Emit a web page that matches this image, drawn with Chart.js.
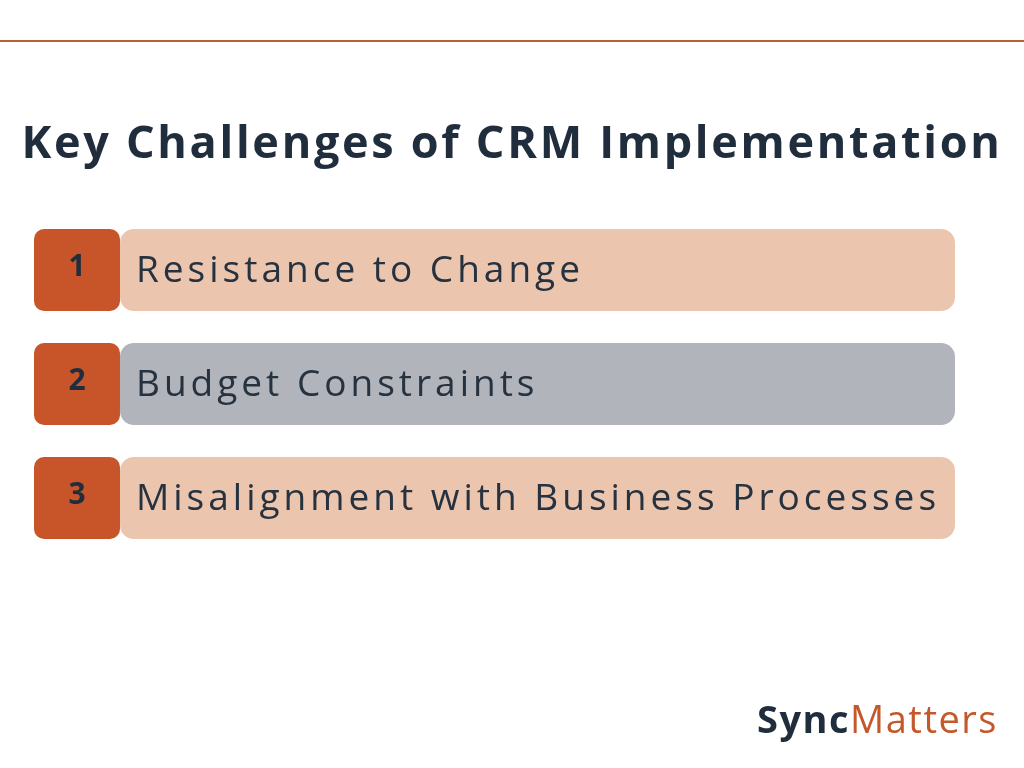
<!DOCTYPE html>
<html><head><meta charset="utf-8">
<script src="https://cdn.jsdelivr.net/npm/chart.js@4.4.0/dist/chart.umd.min.js"></script>
<style>html,body{margin:0;padding:0;background:#fff}</style>
</head><body>
<canvas id="c" width="1024" height="768"></canvas>
<script>
const categories = ["Resistance to Change", "Budget Constraints", "Misalignment with Business Processes"];
const numbers = ["1", "2", "3"];
const boxValues = [[0, 1], [0, 1], [0, 1]];
const barValues = [[1, 10.71], [1, 10.71], [1, 10.71]];
const barColors = ["#ecc5ae", "#b1b5bb", "#ecc5ae"];
const titleText = "Key Challenges of CRM Implementation";

const deco = {
  id: 'deco',
  afterDraw(chart) {
    const ctx = chart.ctx;
    ctx.save();
    ctx.fillStyle = '#b9602f';
    ctx.fillRect(0, 40, 1024, 2);
    ctx.fillStyle = '#1f2d3d';
    ctx.font = 'bold 45px "Open Sans", sans-serif';
    ctx.letterSpacing = '2.7px';
    ctx.textAlign = 'center'; ctx.textBaseline = 'middle';
    ctx.fillText(titleText, 512, 145);
    const y = chart.scales.y, x = chart.scales.x;
    categories.forEach((c, i) => {
      const cy = y.getPixelForValue(i);
      ctx.letterSpacing = '0px';
      ctx.fillStyle = '#1f2d3d';
      ctx.font = 'bold 30px "Open Sans", sans-serif';
      ctx.textAlign = 'center';
      ctx.fillText(numbers[i], x.getPixelForValue(0.5), cy - 3);
      ctx.letterSpacing = '4px';
      ctx.fillStyle = '#26323f';
      ctx.font = '37px "Open Sans", sans-serif';
      ctx.textAlign = 'left';
      ctx.fillText(c, x.getPixelForValue(1) + 16, cy + 1);
    });
    ctx.textAlign = 'left';
    ctx.letterSpacing = '1.5px';
    ctx.font = 'bold 38px "Open Sans", sans-serif';
    ctx.fillStyle = '#1f2d3d';
    ctx.fillText("Sync", 757, 722);
    const w = ctx.measureText("Sync").width;
    ctx.font = '38px "Open Sans", sans-serif';
    ctx.fillStyle = '#c4582a';
    ctx.fillText("Matters", 757 + w, 722);
    ctx.restore();
  }
};

new Chart(document.getElementById('c'), {
  type: 'bar',
  data: {
    labels: categories,
    datasets: [
      { data: barValues, backgroundColor: barColors, borderRadius: 14, borderSkipped: false, order: 2 },
      { data: boxValues, backgroundColor: '#c8552a', borderRadius: 10, borderSkipped: false, order: 1 }
    ]
  },
  options: {
    responsive: false, animation: false, indexAxis: 'y',
    layout: { padding: { left: 34, right: 69, top: 213, bottom: 213 } },
    datasets: { bar: { grouped: false, categoryPercentage: 1, barPercentage: 0.72 } },
    scales: {
      x: { display: false, min: 0, max: 10.71 },
      y: { display: false }
    },
    plugins: { legend: { display: false }, tooltip: { enabled: false } }
  },
  plugins: [deco]
});
</script>
</body></html>
